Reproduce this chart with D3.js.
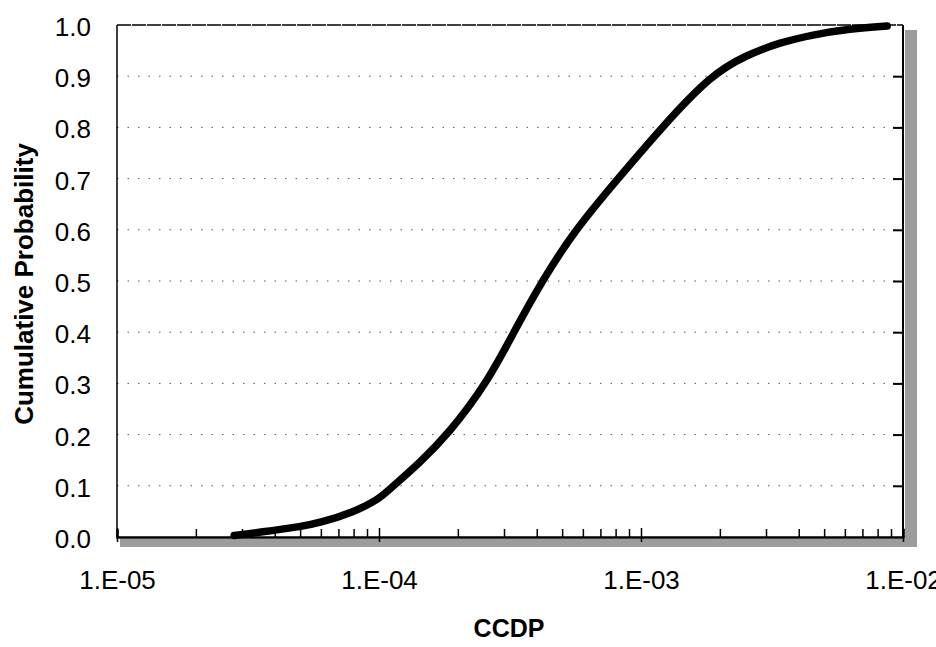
<!DOCTYPE html>
<html>
<head>
<meta charset="utf-8">
<script src="https://cdn.jsdelivr.net/npm/d3@7"></script>
<style>
  body { margin: 0; background: #fff; }
  text { font-family: "Liberation Sans", Arial, sans-serif; fill: #000; }
</style>
</head>
<body>
<div class="canvas"></div>
<script>
/////////////////////////////////
//** DATA **//

// CCDP values (x) and cumulative probability (y)
const ccdp = [2.8e-5, 4.0e-5, 4.99e-5, 5.96e-5, 7.96e-5, 1.0e-4, 1.10e-4, 1.43e-4, 1.83e-4,
  2.58e-4, 3.30e-4, 4.19e-4, 5.6e-4, 8.17e-4, 1.2e-3, 1.85e-3, 2.54e-3,
  3.4e-3, 4.53e-3, 6.11e-3, 8.7e-3];
const cumProb = [0.003, 0.013, 0.02, 0.028, 0.048, 0.074, 0.094, 0.145, 0.2,
  0.3, 0.404, 0.5, 0.6, 0.7, 0.8, 0.903, 0.942,
  0.966, 0.981, 0.992, 0.998];

// tick labels
const yTicks = [0, 0.1, 0.2, 0.3, 0.4, 0.5, 0.6, 0.7, 0.8, 0.9, 1.0];
const xDecades = [1e-5, 1e-4, 1e-3, 1e-2];
const xTickLabels = ['1.E-05', '1.E-04', '1.E-03', '1.E-02'];

/////////////////////////////////
//** DIMENSIONS **//

const dims = { width: 936, height: 647 };
const plot = { left: 117, right: 903, top: 25, bottom: 537 };

const svg = d3.select('.canvas')
  .append('svg')
  .attr('width', dims.width)
  .attr('height', dims.height);

// scales
const x = d3.scaleLog()
  .domain([1e-5, 1e-2])
  .range([plot.left, plot.right]);

const y = d3.scaleLinear()
  .domain([0, 1])
  .range([plot.bottom, plot.top]);

/////////////////////////////////
//** SHADOW + FRAME **//

// grey shadow along right and bottom (scanned excel look)
svg.append('rect')
  .attr('x', plot.right + 2).attr('y', plot.top + 5)
  .attr('width', 12).attr('height', plot.bottom - plot.top + 5)
  .attr('fill', '#9c9c9c');
svg.append('rect')
  .attr('x', plot.left + 3).attr('y', plot.bottom + 2)
  .attr('width', plot.right - plot.left + 11).attr('height', 8)
  .attr('fill', '#9c9c9c');

// gridlines
svg.append('g')
  .selectAll('line')
  .data(yTicks.slice(1, -1))
  .enter()
  .append('line')
  .attr('x1', plot.left).attr('x2', plot.right)
  .attr('y1', d => y(d)).attr('y2', d => y(d))
  .attr('stroke', '#555')
  .attr('stroke-width', 1)
  .attr('stroke-dasharray', '1.5,9');

// top + left + right borders
svg.append('line')
  .attr('x1', plot.left).attr('x2', plot.right)
  .attr('y1', plot.top).attr('y2', plot.top)
  .attr('stroke', '#000').attr('stroke-width', 1.5)
  .attr('stroke-dasharray', '14,1');
svg.append('line')
  .attr('x1', plot.left).attr('x2', plot.left)
  .attr('y1', plot.top).attr('y2', plot.bottom)
  .attr('stroke', '#000').attr('stroke-width', 1.5);
svg.append('line')
  .attr('x1', plot.right).attr('x2', plot.right)
  .attr('y1', plot.top).attr('y2', plot.bottom)
  .attr('stroke', '#000').attr('stroke-width', 2);

/////////////////////////////////
//** AXES **//

// all log ticks between decades
const minorTicks = [];
for (let e = -5; e < -2; e++) {
  for (let m = 1; m < 10; m++) minorTicks.push(m * Math.pow(10, e));
}
minorTicks.push(1e-2);

const isDecade = d => xDecades.some(v => Math.abs(v - d) / v < 1e-6);

const xAxis = d3.axisBottom(x)
  .tickValues(minorTicks)
  .tickSize(-8)
  .tickPadding(34)
  .tickFormat(d => {
    const i = xDecades.findIndex(v => Math.abs(v - d) / v < 1e-6);
    return i >= 0 ? xTickLabels[i] : '';
  });

const xG = svg.append('g')
  .attr('transform', `translate(0, ${plot.bottom})`)
  .call(xAxis);
xG.select('.domain').attr('stroke-width', 2.5);
xG.selectAll('.tick line').attr('stroke-width', 1.5);
xG.selectAll('.tick text').attr('font-size', 26);
// decade ticks cross the axis
xG.selectAll('.tick')
  .filter(isDecade)
  .select('line')
  .attr('y2', 5).attr('y1', -9);

const yAxis = d3.axisLeft(y)
  .tickValues(yTicks)
  .tickSize(0)
  .tickPadding(26)
  .tickFormat(d3.format('.1f'));

const yG = svg.append('g')
  .attr('transform', `translate(${plot.left}, 0)`)
  .call(yAxis);
yG.select('.domain').remove();
yG.selectAll('.tick text').attr('font-size', 26).attr('dy', '0.4em');

// inward ticks on the right side
const rG = svg.append('g')
  .attr('transform', `translate(${plot.right}, 0)`)
  .call(d3.axisLeft(y).tickValues(yTicks.slice(1, -1)).tickSize(10).tickFormat(''));
rG.select('.domain').remove();
rG.selectAll('.tick line').attr('stroke-width', 2);

/////////////////////////////////
//** CURVE **//

// basis spline keeps the scanned curve smooth between read points
const line = d3.line()
  .x((d, i) => x(ccdp[i]))
  .y(d => y(d))
  .curve(d3.curveBasis);

svg.append('path')
  .attr('d', line(cumProb))
  .attr('fill', 'none')
  .attr('stroke', '#000')
  .attr('stroke-width', 7.5)
  .attr('stroke-linecap', 'round');

/////////////////////////////////
//** TITLES **//

svg.append('text')
  .attr('x', 509).attr('y', 637)
  .attr('text-anchor', 'middle')
  .attr('font-size', 25)
  .attr('font-weight', 'bold')
  .text('CCDP');

svg.append('text')
  .attr('transform', 'translate(33, 284) rotate(-90)')
  .attr('text-anchor', 'middle')
  .attr('font-size', 26)
  .attr('font-weight', 'bold')
  .text('Cumulative Probability');
</script>
</body>
</html>
